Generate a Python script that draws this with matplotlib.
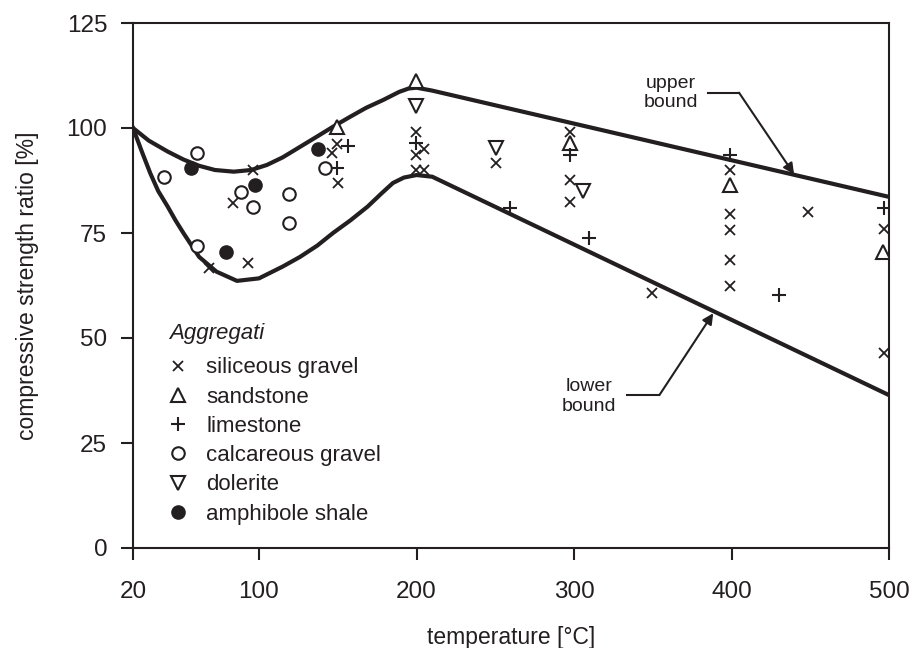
import matplotlib
matplotlib.use('Agg')
import matplotlib.pyplot as plt

plt.rcParams['font.family'] = ['Liberation Sans', 'DejaVu Sans']

INK = '#231f20'

# ---- axes ----
x_ticks = [20, 100, 200, 300, 400, 500]
y_ticks = [0, 25, 50, 75, 100, 125]
x_label = 'temperature [°C]'
y_label = 'compressive strength ratio [%]'

# ---- bound curves ----
upper_t = [20, 30, 42, 52, 62, 72, 84, 95, 105, 115, 126, 137, 147, 158, 168, 179, 189, 195, 200, 210, 500]
upper_r = [100, 97.0, 94.4, 92.5, 91.0, 90.0, 89.6, 90.0, 91.2, 93.0, 95.5, 98.0, 100.3, 102.7, 104.8, 106.7, 108.6, 109.4, 109.6, 108.9, 83.6]

lower_t = [20, 26, 31, 36, 42, 47, 52, 62, 73, 86, 100, 115, 126, 137, 147, 158, 169, 178, 185, 192, 200, 210, 500]
lower_r = [100, 94.0, 89.2, 85.0, 81.3, 78.0, 75.0, 69.3, 65.8, 63.6, 64.2, 67.0, 69.3, 72.0, 75.0, 78.0, 81.3, 84.5, 86.9, 88.2, 88.8, 88.4, 36.4]

# ---- measurements by aggregate ----
siliceous_t = [68.4, 83.3, 93.2, 96.4, 146.1, 149.3, 149.9, 199.7, 204.9, 199.7, 199.7, 204.9, 250.5,
               297.5, 297.5, 297.5, 349.5, 399, 399, 399, 399, 399, 448.8, 497, 497]
siliceous_r = [66.6, 82.1, 67.9, 90.0, 94.0, 96.2, 87.0, 99.1, 95.0, 93.6, 90.0, 90.0, 91.6,
               99.1, 87.6, 82.5, 60.8, 90.0, 79.5, 75.7, 68.6, 62.5, 79.9, 75.9, 46.5]

sandstone_t = [149.3, 199.7, 297.5, 399, 496]
sandstone_r = [100.3, 111.2, 96.4, 86.4, 70.4]

limestone_t = [156.7, 149.3, 199.7, 259.4, 297.5, 309.7, 399, 430.2, 497]
limestone_r = [95.6, 90.5, 96.4, 81.0, 93.6, 73.9, 93.6, 60.2, 80.9]

calcareous_t = [39.9, 60.4, 60.4, 88.4, 96.4, 119.2, 119.2, 141.9]
calcareous_r = [88.4, 94.0, 71.9, 84.8, 81.1, 84.4, 77.5, 90.5]

dolerite_t = [199.7, 250.5, 305.5]
dolerite_r = [105.2, 95.2, 85.1]

amphibole_t = [56.6, 97.5, 79.0, 137.7]
amphibole_r = [90.4, 86.4, 70.4, 95.0]

legend_title = 'Aggregati'
labels = ['siliceous gravel', 'sandstone', 'limestone', 'calcareous gravel', 'dolerite', 'amphibole shale']

# annotation anchor points (data coords)
upper_text_pos = (361.5, 108.3)
upper_leader = [(385, 108.4), (404.8, 108.4)]
upper_tip = (439.7, 89.0)
lower_text_pos = (309.5, 36.0)
lower_leader = [(333.5, 36.4), (354.2, 36.4)]
lower_tip = (388.4, 55.9)

# ---- figure ----
fig = plt.figure(figsize=(9.12, 6.48), dpi=100)
W, H = 912, 648
ax = fig.add_axes([133 / W, 1 - 548 / H, (889 - 133) / W, (548 - 23) / H])

ax.plot(upper_t, upper_r, color=INK, lw=3.0, solid_joinstyle='round', zorder=3)
ax.plot(lower_t, lower_r, color=INK, lw=3.0, solid_joinstyle='round', zorder=3)

h1, = ax.plot(siliceous_t, siliceous_r, ls='none', marker='x', ms=7, mew=1.3, color=INK, label=labels[0], zorder=4)
h2, = ax.plot(sandstone_t, sandstone_r, ls='none', marker='^', ms=9.5, mew=1.5, mfc='white', mec=INK, label=labels[1], zorder=4)
h3, = ax.plot(limestone_t, limestone_r, ls='none', marker='+', ms=10, mew=1.5, color=INK, label=labels[2], zorder=4)
h4, = ax.plot(calcareous_t, calcareous_r, ls='none', marker='o', ms=9, mew=1.5, mfc='white', mec=INK, label=labels[3], zorder=4)
h5, = ax.plot(dolerite_t, dolerite_r, ls='none', marker='v', ms=9.5, mew=1.5, mfc='white', mec=INK, label=labels[4], zorder=4)
h6, = ax.plot(amphibole_t, amphibole_r, ls='none', marker='o', ms=9.5, mew=1.0, mfc=INK, mec=INK, label=labels[5], zorder=4)

ax.set_xlim(x_ticks[0], x_ticks[-1])
ax.set_ylim(y_ticks[0], y_ticks[-1])
ax.set_xticks(x_ticks)
ax.set_yticks(y_ticks)
ax.tick_params(axis='both', direction='out', length=8.6, width=1.5, color=INK, labelcolor=INK, labelsize=17.5)
ax.tick_params(axis='x', pad=15)
ax.tick_params(axis='y', pad=10)
for s in ax.spines.values():
    s.set_linewidth(1.5)
    s.set_color(INK)

ax.set_xlabel(x_label, fontsize=16.5, color=INK, labelpad=17)
ax.set_ylabel(y_label, fontsize=16.5, color=INK, labelpad=20)

leg = ax.legend(handles=[h1, h2, h3, h4, h5, h6], loc='upper left',
                bbox_to_anchor=(0.0446, 0.363), frameon=False, fontsize=16,
                borderpad=0, borderaxespad=0, handlelength=1.0,
                handletextpad=0.78, labelspacing=0.37)
for t in leg.get_texts():
    t.set_color(INK)
ax.text(0.0476, 0.408, legend_title, transform=ax.transAxes, fontsize=16, style='italic',
        color=INK, ha='left', va='center')

# annotations
ax.text(*upper_text_pos, 'upper\nbound', fontsize=14, color=INK, ha='center', va='center', linespacing=1.2)
ax.plot([p[0] for p in upper_leader], [p[1] for p in upper_leader], color=INK, lw=1.5)
ax.annotate('', xy=upper_tip, xytext=upper_leader[1],
            arrowprops=dict(arrowstyle='-|>', lw=1.5, color=INK, mutation_scale=16, shrinkA=0, shrinkB=0))
ax.text(*lower_text_pos, 'lower\nbound', fontsize=14, color=INK, ha='center', va='center', linespacing=1.2)
ax.plot([p[0] for p in lower_leader], [p[1] for p in lower_leader], color=INK, lw=1.5)
ax.annotate('', xy=lower_tip, xytext=lower_leader[1],
            arrowprops=dict(arrowstyle='-|>', lw=1.5, color=INK, mutation_scale=16, shrinkA=0, shrinkB=0))

fig.savefig('out.png', dpi=100)
